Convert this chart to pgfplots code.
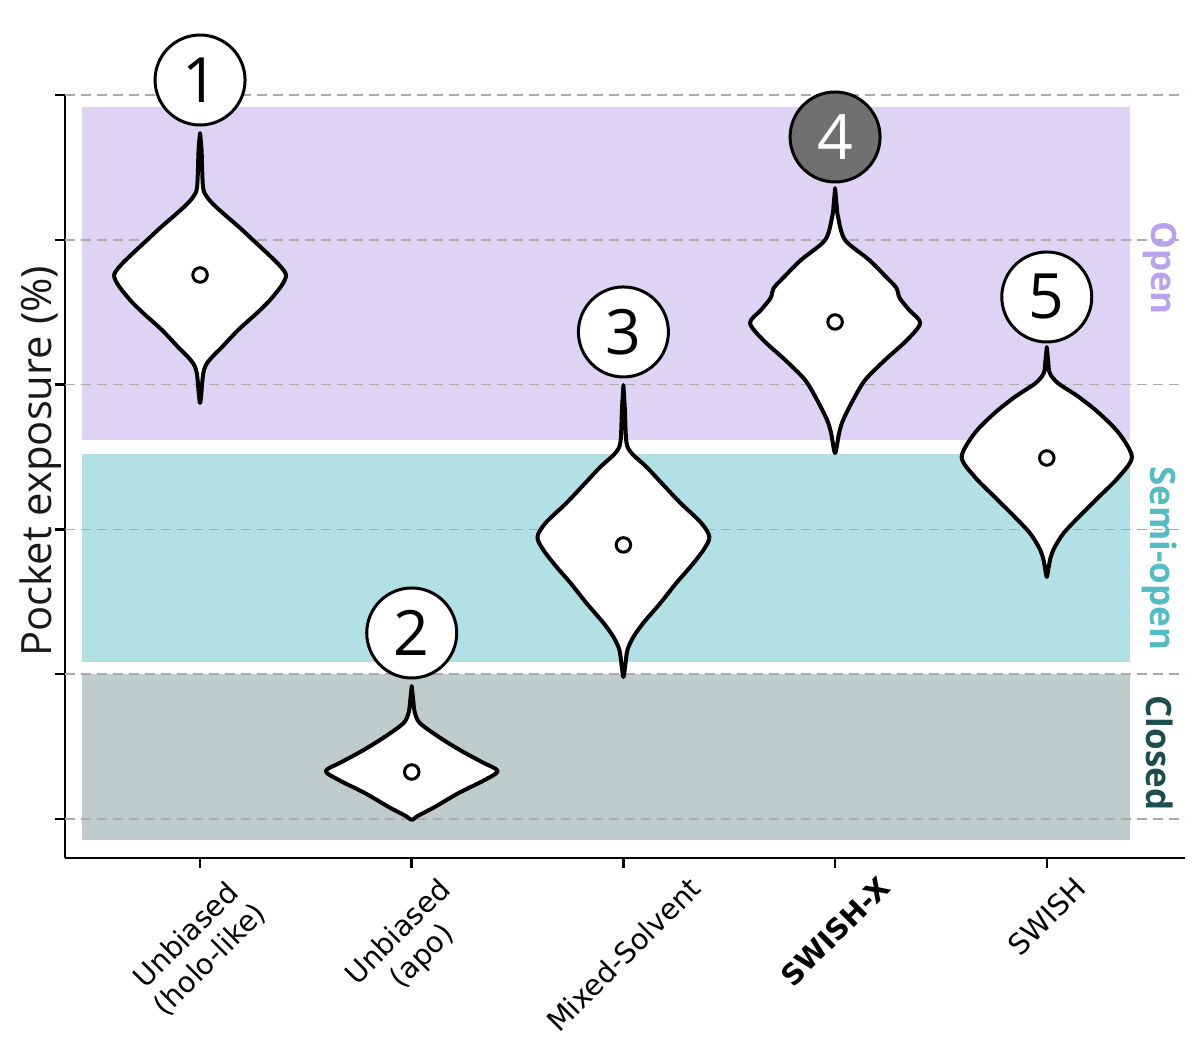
\documentclass[border=0pt]{standalone}
\usepackage{fontspec}
\setmainfont{Open Sans}
\newfontfamily\dejavu{DejaVu Sans}
\usepackage{graphicx}
\usepackage{pgfplots}
\pgfplotsset{compat=1.18}
\definecolor{openbg}{HTML}{DFD3F5}
\definecolor{semibg}{HTML}{B2E0E5}
\definecolor{closedbg}{HTML}{BFCCCC}
\definecolor{opentxt}{HTML}{B8A2EA}
\definecolor{semitxt}{HTML}{55BCC4}
\definecolor{closedtxt}{HTML}{1E4D4F}
\definecolor{gridc}{HTML}{ABABAB}
\definecolor{circ4}{HTML}{707070}
\tikzset{
  gridline/.style={gridc, line width=0.6pt, dash pattern=on 4pt off 2.4pt},
  violin/.style={fill=white, draw=black, line width=1.6pt, line join=round, smooth, tension=0.5},
  numc/.style={circle, draw=black, line width=1.2pt, fill=white, minimum size=36pt, inner sep=0pt, font=\fontsize{25}{30}\selectfont},
}
\begin{document}
\begin{tikzpicture}
\useasboundingbox (-26pt,-82pt) rectangle (454pt,343.2pt);
\begin{axis}[
  at={(0,0)}, anchor=south west,
  scale only axis, width=448pt, height=305.2pt,
  xmin=-0.638, xmax=4.653, ymin=-5.39, ymax=100,
  axis x line*=bottom, axis y line*=left,
  axis line style={line width=1pt, black},
  tick align=outside,
  major tick length=4pt,
  tick style={line width=1pt, black},
  xtick={0,1,2,3,4},
  xticklabels={
    {\rotatebox{45}{\begin{tabular}{@{}c@{}}Unbiased\\(holo-like)\end{tabular}}},
    {\rotatebox{45}{\begin{tabular}{@{}c@{}}Unbiased\\(apo)\end{tabular}}},
    {\rotatebox{45}{Mixed-Solvent}},
    {\rotatebox{45}{\textbf{SWISH-X}}},
    {\rotatebox{45}{SWISH}}},
  xticklabel style={font=\dejavu\fontsize{11.5}{13.5}\selectfont, anchor=north, inner sep=2.5pt},
  ytick={0,20,40,60,80,100},
  yticklabels={},
  clip=false,
]
% background bands
\addplot[fill=openbg, draw=none] coordinates {(-0.557,52.35) (4.393,52.35) (4.393,98.34) (-0.557,98.34)} -- cycle;
\addplot[fill=semibg, draw=none] coordinates {(-0.557,21.69) (4.393,21.69) (4.393,50.41) (-0.557,50.41)} -- cycle;
\addplot[fill=closedbg, draw=none] coordinates {(-0.557,-2.90) (4.393,-2.90) (4.393,20.0) (-0.557,20.0)} -- cycle;
% grid
\draw[gridline] (axis cs:-0.638,0) -- (axis cs:4.653,0);
\draw[gridline] (axis cs:-0.638,20) -- (axis cs:4.653,20);
\draw[gridline] (axis cs:-0.638,40) -- (axis cs:4.653,40);
\draw[gridline] (axis cs:-0.638,60) -- (axis cs:4.653,60);
\draw[gridline] (axis cs:-0.638,80) -- (axis cs:4.653,80);
\draw[gridline] (axis cs:-0.638,100) -- (axis cs:4.653,100);
% violins
\addplot[violin] coordinates {
(0,94.75) (0.007,92.40) (0.014,87.29) (0.033,85.91) (0.066,84.81) (0.118,83.43) (0.189,81.63) (0.250,79.97) (0.326,77.90) (0.378,76.38) (0.406,75.14) (0.387,73.76) (0.331,71.69) (0.269,69.89) (0.180,67.54) (0.104,65.19) (0.057,63.81) (0.028,62.71) (0.014,61.33) (0,57.46)
(-0.014,61.33) (-0.028,62.71) (-0.057,63.81) (-0.104,65.19) (-0.180,67.54) (-0.269,69.89) (-0.331,71.69) (-0.387,73.76) (-0.406,75.14) (-0.378,76.38) (-0.326,77.90) (-0.250,79.97) (-0.189,81.63) (-0.118,83.43) (-0.066,84.81) (-0.033,85.91) (-0.014,87.29) (-0.007,92.40) (0,94.75)} -- cycle;
\addplot[violin] coordinates {
(1,18.37) (1.007,16.44) (1.014,14.78) (1.038,13.26) (1.128,11.33) (1.227,9.53) (1.331,7.87) (1.406,6.63) (1.345,5.39) (1.222,3.59) (1.109,1.66) (1.028,0.41) (1,-0.14)
(0.972,0.41) (0.891,1.66) (0.778,3.59) (0.655,5.39) (0.594,6.63) (0.669,7.87) (0.773,9.53) (0.872,11.33) (0.962,13.26) (0.986,14.78) (0.993,16.44) (1,18.37)} -- cycle;
\addplot[violin] coordinates {
(2,59.94) (2.007,56.49) (2.014,52.07) (2.038,50.55) (2.109,48.62) (2.180,46.41) (2.269,43.65) (2.368,40.88) (2.406,38.95) (2.378,37.15) (2.316,34.81) (2.250,32.60) (2.175,29.83) (2.094,27.07) (2.047,25.14) (2.019,23.34) (2.009,21.27) (2,19.61)
(1.991,21.27) (1.981,23.34) (1.953,25.14) (1.906,27.07) (1.825,29.83) (1.750,32.60) (1.684,34.81) (1.622,37.15) (1.594,38.95) (1.632,40.88) (1.731,43.65) (1.820,46.41) (1.891,48.62) (1.962,50.55) (1.986,52.07) (1.993,56.49) (2,59.94)} -- cycle;
\addplot[violin] coordinates {
(3,87.15) (3.007,84.81) (3.014,83.15) (3.047,79.97) (3.161,77.21) (3.255,74.45) (3.290,73.34) (3.305,71.96) (3.350,70.30) (3.402,68.51) (3.340,66.16) (3.236,63.40) (3.142,60.64) (3.085,57.87) (3.038,55.11) (3.019,53.31) (3,50.55)
(2.981,53.31) (2.962,55.11) (2.915,57.87) (2.858,60.64) (2.764,63.40) (2.660,66.16) (2.598,68.51) (2.650,70.30) (2.695,71.96) (2.710,73.34) (2.745,74.45) (2.839,77.21) (2.953,79.97) (2.986,83.15) (2.993,84.81) (3,87.15)} -- cycle;
\addplot[violin] coordinates {
(4,65.19) (4.007,63.12) (4.014,61.60) (4.052,60.22) (4.151,58.29) (4.246,56.08) (4.340,53.31) (4.402,50.00) (4.340,47.24) (4.246,44.48) (4.151,41.71) (4.080,39.50) (4.038,37.57) (4.019,36.19) (4.009,34.81) (4,33.43)
(3.991,34.81) (3.981,36.19) (3.962,37.57) (3.920,39.50) (3.849,41.71) (3.754,44.48) (3.660,47.24) (3.598,50.00) (3.660,53.31) (3.754,56.08) (3.849,58.29) (3.948,60.22) (3.986,61.60) (3.993,63.12) (4,65.19)} -- cycle;
% medians
\addplot[only marks, mark=*, mark size=2.9pt, mark options={fill=white, draw=black, line width=1.2pt}] coordinates {(0,75.14) (1,6.49) (2,37.85) (3,68.65) (4,49.86)};
% numbered circles
\node[numc] at (axis cs:0,102.07) {1};
\node[numc] at (axis cs:1,25.69) {2};
\node[numc] at (axis cs:2,67.27) {3};
\node[numc, fill=circ4, text=white] at (axis cs:3,94.2) {4};
\node[numc] at (axis cs:4,72.1) {5};
% state labels
\node[rotate=-90, text=opentxt, font=\bfseries\fontsize{14}{16}\selectfont] at (axis cs:4.535,76.1) {Open};
\node[rotate=-90, text=semitxt, font=\bfseries\fontsize{14}{16}\selectfont] at (axis cs:4.535,36.0) {Semi-open};
\node[rotate=-90, text=closedtxt, font=\bfseries\fontsize{14}{16}\selectfont] at (axis cs:4.535,9.12) {Closed};
% y label
\node[rotate=90, text=black!90, font=\fontsize{16.7}{19}\selectfont] at (axis description cs:-0.022,0.52) {Pocket exposure (\%)};
\end{axis}
\end{tikzpicture}
\end{document}
